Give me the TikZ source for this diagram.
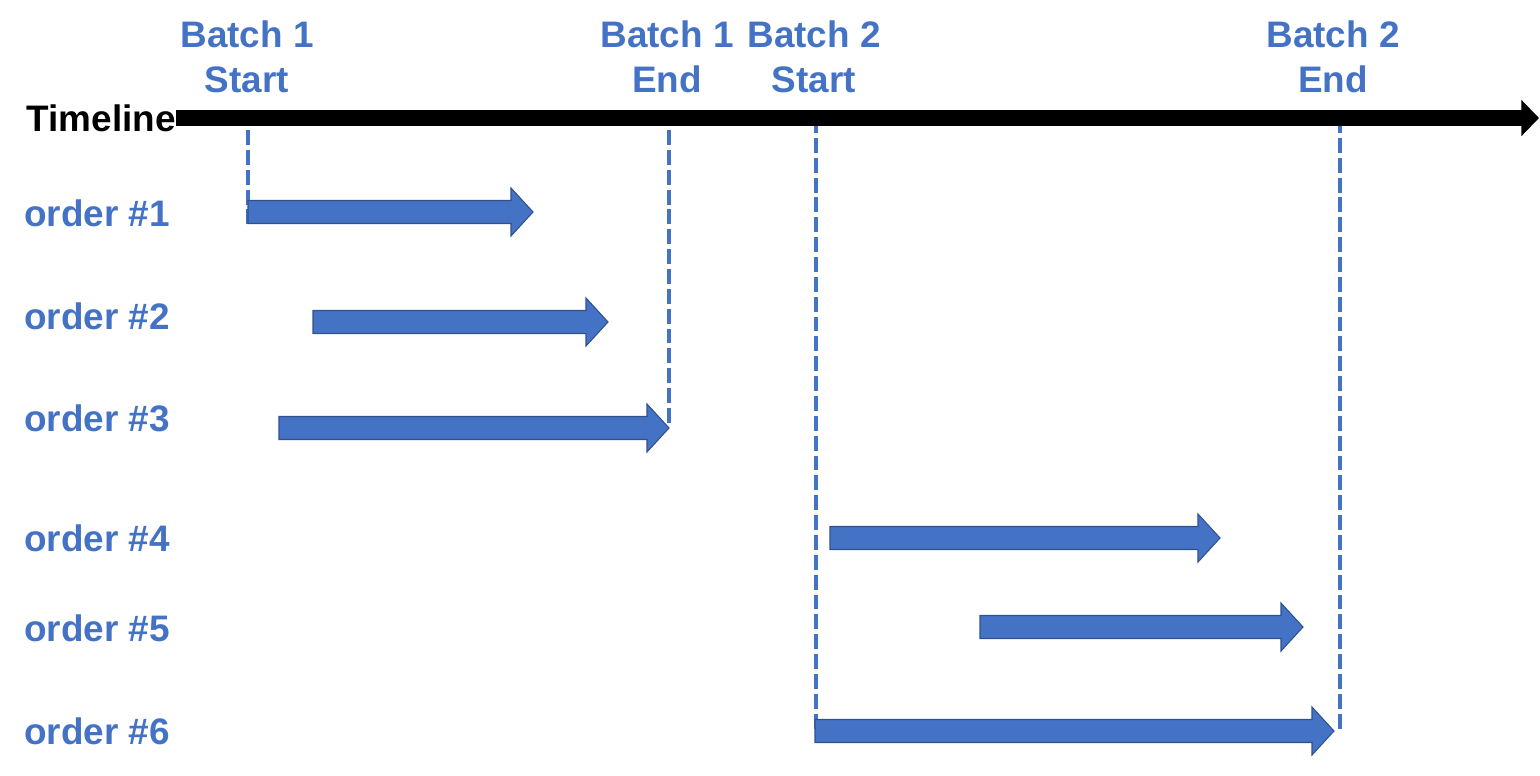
\documentclass[tikz,border=0pt]{standalone}
\usepackage{fontspec}
\setmainfont{Liberation Sans}
\usetikzlibrary{arrows.meta}
\definecolor{ordblue}{HTML}{4472C4}
\definecolor{ordedge}{HTML}{2F528F}
\tikzset{
  lbl/.style={font=\bfseries\fontsize{21}{25.5}\selectfont,text=ordblue,align=center,inner sep=0pt},
  orderlbl/.style={lbl,anchor=west},
  batchlbl/.style={lbl,anchor=south},
  batchline/.style={ordblue,line width=2.8pt,dash pattern=on 8.5pt off 2.8pt},
  orderbar/.style={fill=ordblue,draw=ordedge,line width=0.6pt}
}
% block arrow: start x, tip x, centre y
\newcommand{\orderarrow}[3]{\draw[orderbar] (#1,#3-11.5) -- (#2-22,#3-11.5) -- (#2-22,#3-24) -- (#2,#3) -- (#2-22,#3+24) -- (#2-22,#3+11.5) -- (#1,#3+11.5) -- cycle;}
\begin{document}
\begin{tikzpicture}[x=0.02cm,y=-0.02cm]
\useasboundingbox (0,0) rectangle (1540,775);
% labels
\draw node[lbl,text=black,anchor=east] (tl) at (176,118) {Timeline};
\draw node[batchlbl] (b1s) at (247,93) {Batch 1\\Start};
\draw node[batchlbl] (b1e) at (667,93) {Batch 1\\End};
\draw node[batchlbl] (b2s) at (814,93) {Batch 2\\Start};
\draw node[batchlbl] (b2e) at (1333,93) {Batch 2\\End};
\draw node[orderlbl] (o1) at (24,213) {order \#1};
\draw node[orderlbl] (o2) at (24,316) {order \#2};
\draw node[orderlbl] (o3) at (24,418) {order \#3};
\draw node[orderlbl] (o4) at (24,538) {order \#4};
\draw node[orderlbl] (o5) at (24,628) {order \#5};
\draw node[orderlbl] (o6) at (24,731) {order \#6};
% batch marks
\coordinate (b1stop) at (248,130); \coordinate (b1sbot) at (248,225);
\coordinate (b1etop) at (669,130); \coordinate (b1ebot) at (669,425);
\coordinate (b2stop) at (816,118); \coordinate (b2sbot) at (816,730);
\coordinate (b2etop) at (1340,118); \coordinate (b2ebot) at (1340,730);
\draw[batchline] (b1stop) -- (b1sbot);
\draw[batchline] (b1etop) -- (b1ebot);
\draw[batchline] (b2stop) -- (b2sbot);
\draw[batchline] (b2etop) -- (b2ebot);
% timeline
\coordinate (tend) at (1539,118);
\draw[line width=9.6pt,-{Triangle[length=10pt,width=20pt]}] (tl.east) -- (tend);
% orders
\orderarrow{248}{533}{212}
\orderarrow{313}{608}{322}
\orderarrow{279}{669}{428}
\orderarrow{830}{1220}{538}
\orderarrow{980}{1303}{627}
\orderarrow{815}{1334}{731}
\end{tikzpicture}
\end{document}
